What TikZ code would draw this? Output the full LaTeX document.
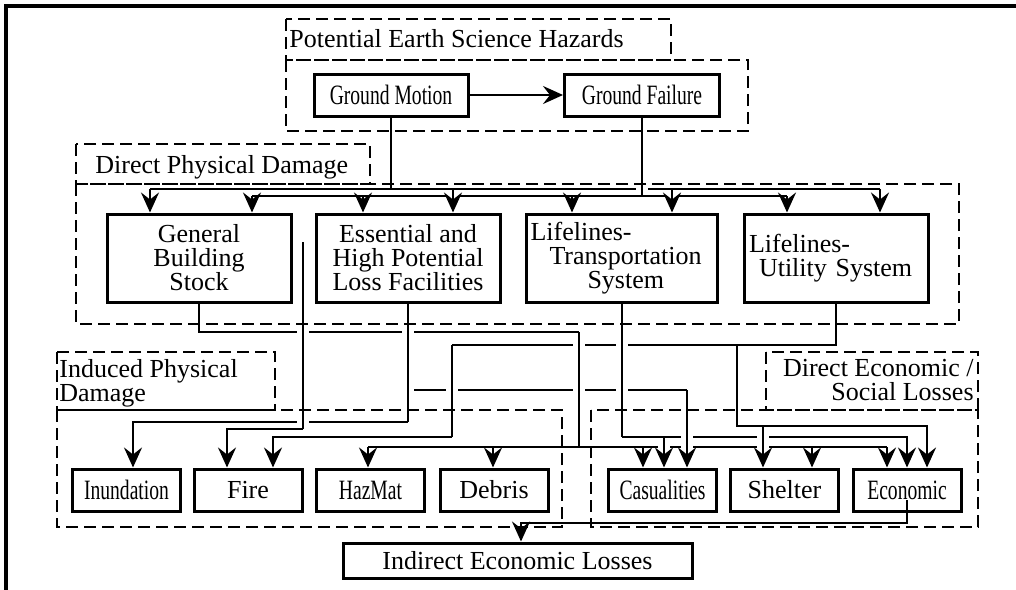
\documentclass[tikz,border=0pt]{standalone}
\usepackage{fontspec}
\setmainfont{Liberation Serif}
\newfontfamily\narrowfont[FakeStretch=0.7]{Liberation Serif}
\usetikzlibrary{arrows.meta, calc}

\tikzset{
    box/.style={draw, line width=1.5pt, inner sep=0pt, align=center},
    bigbox/.style={box, minimum width=92pt, minimum height=44pt},
    smallbox/.style={box, minimum width=54pt, minimum height=21pt},
    narrowtxt/.style={font=\narrowfont\fontsize{14}{13}\selectfont},
    wire/.style={line width=1.3pt},
    arr/.style={wire, -{Stealth[length=10pt, width=9pt, inset=3.5pt]}},
    crossover/.style={preaction={draw=white, -, line width=6pt, shorten <=1.3pt, shorten >=2.2pt}},
    grp/.style={line width=0.6pt, dash pattern=on 6pt off 3pt},
    lbl/.style={inner sep=0pt}
}

\begin{document}
\begin{tikzpicture}[x=0.5pt, y=-0.5pt, font=\fontsize{13}{12}\selectfont]
    \useasboundingbox (0,0) rectangle (1016,589);
    \draw[line width=1.6pt] (6,600) -- (6,6) -- (1030,6);

    % hazards
    \node[box, narrowtxt, minimum width=77pt, minimum height=21pt] (gm) at (391,95) {Ground Motion};
    \node[box, narrowtxt, minimum width=77.5pt, minimum height=21pt] (gf) at (642,95) {Ground Failure};

    % direct physical damage
    \node[bigbox] (gbs) at (199,258) {General\\Building\\Stock};
    \node[bigbox] (ess) at (408,258) {Essential and\\High Potential\\Loss Facilities};
    \node[bigbox, align=left, minimum width=95.5pt, inner xsep=2pt, text width=91.5pt] (trn) at (622,258)
        {Lifelines-\\\hspace*{9.5pt}Transportation\\\hspace*{28.5pt}System};
    \node[bigbox, align=left, inner xsep=2.5pt, text width=87pt] (utl) at (836,258)
        {Lifelines-\\\hspace*{5pt}Utility System};

    % induced damage and losses
    \node[smallbox, narrowtxt] (inun) at (126.5,490) {Inundation};
    \node[smallbox] (fire) at (248,490) {Fire};
    \node[smallbox, narrowtxt] (haz) at (370.5,490) {HazMat};
    \node[smallbox] (deb) at (494,490) {Debris};
    \node[smallbox, narrowtxt] (cas) at (662.5,490) {Casualities};
    \node[smallbox] (shel) at (784.5,490) {Shelter};
    \node[smallbox, narrowtxt] (econ) at (907,490) {Economic};
    \node[box, minimum width=174.5pt, minimum height=17.5pt] (iel) at (517.5,560.5) {Indirect Economic Losses};

    % corners
    \coordinate (f1) at (303,242);
    \coordinate (f2) at (303,429);
    \coordinate (g1) at (579,332);
    \coordinate (g2) at (579,447);
    \coordinate (e1) at (408,390);
    \coordinate (e2) at (408,422);
    \coordinate (t1) at (622,437);
    \coordinate (u2) at (452,345);
    \coordinate (u3) at (452,437);
    \coordinate (u4) at (737,345);

    % top buses
    \draw[arr] (gm) -- (gf);
    \draw[wire] (gm.south) -- (gm.south |- 0,189);
    \draw[wire] (150,189) -- (880,189);
    \draw[wire] (252,196) -- (787,196);
    \draw[wire, crossover] (gf.south) -- (gf.south |- 0,196);
    \foreach \x/\n in {252/gbs, 363/ess, 572/trn, 787/utl}
        \draw[arr] (\x,196) -- (\x,196 |- \n.north);
    \foreach \x/\n in {150/gbs, 453/ess, 672/trn, 880/utl}
        \draw[arr, crossover] (\x,189) -- (\x,189 |- \n.north);

    % rows
    \draw[wire] (gbs.south) |- (g1);
    \draw[wire] (368,447) -- (887,447);
    \foreach \x/\n in {368/haz, 493/deb, 643/cas, 812/shel, 887/econ}
        \draw[arr] (\x,447) -- (\x,447 |- \n.north);
    \draw[wire] (e1) -- (687,390);
    \draw[arr] (e2) -| (133,0 |- inun.north);
    \draw[arr] (f2) -| (227,0 |- fire.north);
    \draw[arr] (t1) -| (907,0 |- econ.north);
    \draw[wire] (utl.south) |- (u2);
    \draw[arr] (u3) -| (273,0 |- fire.north);
    \draw[arr] (u4) |- (927,426) -- (927,426 |- econ.north);

    % verticals over the rows
    \draw[wire, crossover] (f1) -- (f2);
    \draw[wire, crossover] (ess.south) -- (e2);
    \draw[wire, crossover] (u2) -- (u3);
    \draw[wire, crossover] (g1) -- (g2);
    \draw[wire, crossover] (trn.south) -- (t1);
    \draw[arr, crossover] (687,390) -- (687,390 |- cas.north);
    \draw[arr, crossover] (664,437) -- (664,437 |- cas.north);
    \draw[arr, crossover] (763,426) -- (763,426 |- shel.north);

    \draw[arr] ([yshift=-5pt]econ.center) |- (521,523) -- (521,523 |- iel.north);

    % groups
    \draw[grp] (286,19) rectangle (671,60);
    \draw[grp] (286,60) rectangle (748,131);
    \draw[grp] (76,144) rectangle (370,184);
    \draw[grp] (76,184) rectangle (959,324);
    \draw[grp] (57,352) rectangle (275,410);
    \draw[grp] (57,410) rectangle (562,527);
    \draw[grp] (766,352) rectangle (978,410);
    \draw[grp] (591,410) rectangle (978,527);

    \node[lbl, anchor=base west] (peshlbl) at (289,47) {Potential Earth Science Hazards};
    \node[lbl, anchor=base west] (dpdlbl) at (95,173) {Direct Physical Damage};
    \node[lbl, anchor=west, align=left] (ipdlbl) at (59,383) {Induced Physical\\Damage};
    \node[lbl, anchor=east, align=right] (deslbl) at (974,380) {Direct Economic /\\Social Losses};
\end{tikzpicture}
\end{document}
